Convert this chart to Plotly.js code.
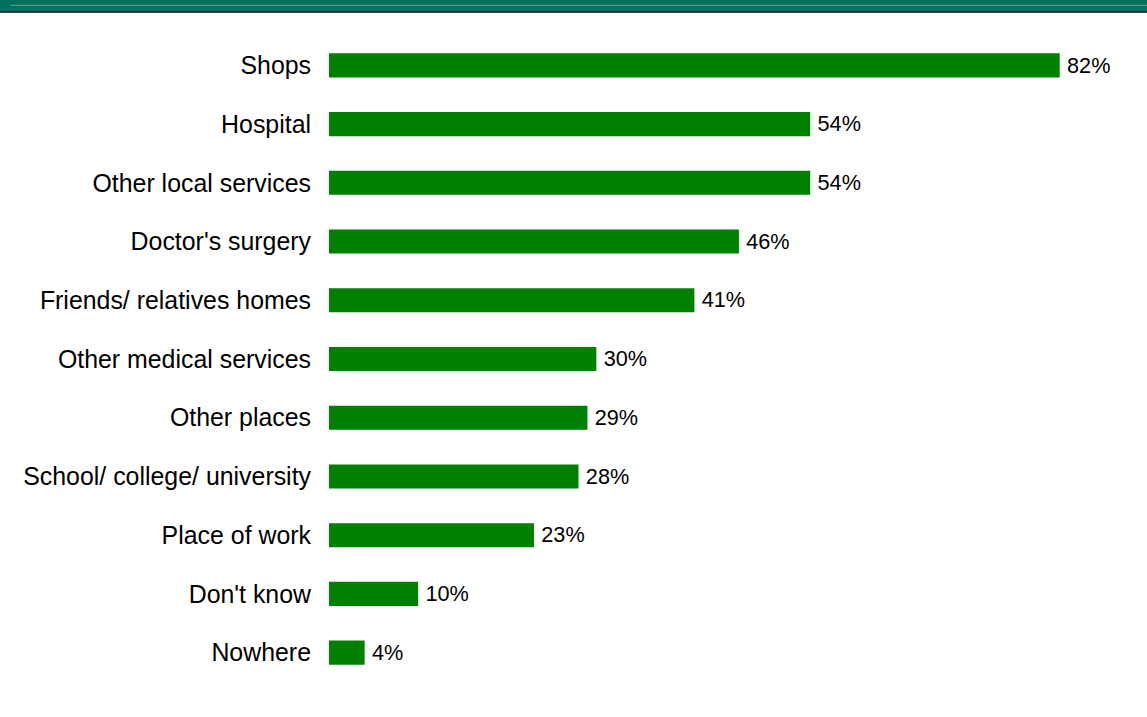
<!DOCTYPE html>
<html>
<head>
<meta charset="utf-8">
<script src="https://cdn.plot.ly/plotly-3.0.1.min.js"></script>
<style>
  html, body { margin: 0; padding: 0; background: #ffffff; }
  #chart { width: 1147px; height: 717px; }
</style>
</head>
<body>
<div id="chart"></div>
<script>
// Places listed, top to bottom
const places = [
  "Shops",
  "Hospital",
  "Other local services",
  "Doctor's surgery",
  "Friends/ relatives homes",
  "Other medical services",
  "Other places",
  "School/ college/ university",
  "Place of work",
  "Don't know",
  "Nowhere"
];
// Share of respondents (%)
const shares = [82, 54, 54, 46, 41, 30, 29, 28, 23, 10, 4];
// thin space keeps the value a little clear of the bar end
const shareLabels = shares.map(v => "\u2009" + v + "%");

const W = 1147, H = 717;
const margin = { l: 329, r: 16, t: 36, b: 35 };
const plotW = W - margin.l - margin.r;
const plotH = H - margin.t - margin.b;
// pixel -> paper helpers for the header band
const px = x => (x - margin.l) / plotW;
const py = y => (H - margin.b - y) / plotH;

const trace = {
  type: "bar",
  orientation: "h",
  y: places,
  x: shares,
  text: shareLabels,
  textposition: "outside",
  cliponaxis: false,
  textfont: { family: "Liberation Sans, Arial, sans-serif", size: 22.5, color: "#000000" },
  marker: { color: "#008000", line: { width: 0 } },
  width: 0.41,
  hoverinfo: "none"
};

const layout = {
  width: W,
  height: H,
  margin: margin,
  paper_bgcolor: "#ffffff",
  plot_bgcolor: "#ffffff",
  showlegend: false,
  font: { family: "Liberation Sans, Arial, sans-serif", size: 22.5, color: "#000000" },
  xaxis: {
    range: [0, 90],
    visible: false,
    fixedrange: true
  },
  yaxis: {
    type: "category",
    autorange: false,
    range: [places.length - 0.5, -0.5],
    showgrid: false,
    zeroline: false,
    showline: false,
    ticks: "outside",
    ticklen: 12,
    tickcolor: "rgba(0,0,0,0)",
    tickfont: { family: "Liberation Sans, Arial, sans-serif", size: 24.9, color: "#000000" },
    fixedrange: true
  },
  shapes: [
    { type: "rect", xref: "paper", yref: "paper", layer: "above",
      x0: px(0), x1: px(W), y0: py(0), y1: py(11.5),
      fillcolor: "#00705f", line: { width: 0 } },
    { type: "line", xref: "paper", yref: "paper", layer: "above",
      x0: px(11), x1: px(W), y0: py(5.3), y1: py(5.3),
      line: { color: "#62a89e", width: 1 } },
    { type: "line", xref: "paper", yref: "paper", layer: "above",
      x0: px(0), x1: px(W), y0: py(12), y1: py(12),
      line: { color: "#000000", width: 1.5 } }
  ]
};

Plotly.newPlot("chart", [trace], layout, { displayModeBar: false, staticPlot: true });
</script>
</body>
</html>
